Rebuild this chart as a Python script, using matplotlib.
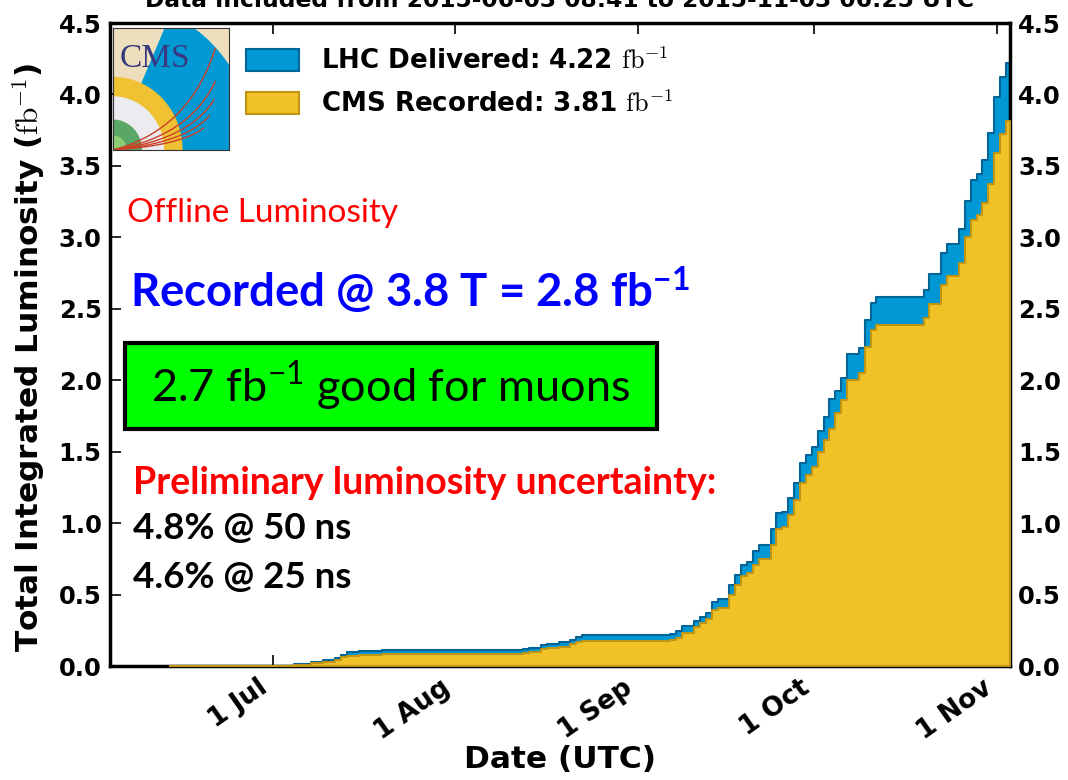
import matplotlib
matplotlib.use("Agg")
import matplotlib.pyplot as plt
import matplotlib.patches as mpatches
import numpy as np
import pandas as pd

# ---------------- data ----------------
step_dates = ["2015-06-13", "2015-07-04", "2015-07-07", "2015-07-09", "2015-07-11", "2015-07-12",
              "2015-07-13", "2015-07-15", "2015-07-19", "2015-08-12", "2015-08-13", "2015-08-15",
              "2015-08-16", "2015-08-18", "2015-08-20", "2015-08-21", "2015-08-22", "2015-09-06",
              "2015-09-07", "2015-09-08", "2015-09-10", "2015-09-11", "2015-09-12", "2015-09-13",
              "2015-09-14", "2015-09-16", "2015-09-17", "2015-09-18", "2015-09-19", "2015-09-20",
              "2015-09-21", "2015-09-23", "2015-09-24", "2015-09-25", "2015-09-26", "2015-09-27",
              "2015-09-28", "2015-09-29", "2015-09-30", "2015-10-01", "2015-10-02", "2015-10-03",
              "2015-10-04", "2015-10-05", "2015-10-06", "2015-10-08", "2015-10-09", "2015-10-10",
              "2015-10-11", "2015-10-19", "2015-10-20", "2015-10-22", "2015-10-23", "2015-10-25",
              "2015-10-26", "2015-10-27", "2015-10-28", "2015-10-29", "2015-10-30", "2015-10-31",
              "2015-11-01", "2015-11-02"]
delivered = [0.001, 0.014, 0.030, 0.042, 0.058, 0.080, 0.096, 0.105, 0.113, 0.119, 0.130, 0.145,
             0.156, 0.166, 0.182, 0.205, 0.215, 0.222, 0.245, 0.282, 0.317, 0.345, 0.373, 0.448,
             0.467, 0.565, 0.635, 0.705, 0.728, 0.805, 0.850, 0.960, 1.069, 1.080, 1.173, 1.278,
             1.418, 1.477, 1.535, 1.647, 1.745, 1.868, 1.927, 2.018, 2.181, 2.228, 2.421, 2.538,
             2.584, 2.631, 2.743, 2.888, 2.953, 3.058, 3.254, 3.401, 3.443, 3.541, 3.728, 3.980,
             4.124, 4.222]
recorded = [0.0005, 0.007, 0.019, 0.030, 0.042, 0.061, 0.072, 0.079, 0.083, 0.089, 0.100, 0.117,
            0.128, 0.135, 0.152, 0.170, 0.177, 0.182, 0.200, 0.233, 0.271, 0.299, 0.327, 0.392,
            0.404, 0.497, 0.567, 0.630, 0.649, 0.707, 0.749, 0.847, 0.957, 0.975, 1.060, 1.162,
            1.278, 1.337, 1.395, 1.500, 1.581, 1.658, 1.768, 1.861, 2.001, 2.048, 2.234, 2.351,
            2.386, 2.433, 2.533, 2.666, 2.729, 2.818, 3.000, 3.121, 3.156, 3.242, 3.373, 3.588,
            3.723, 3.816]
range_start = "2015-06-03 08:41"
range_end = "2015-11-03 06:25"
tick_dates = ["2015-07-01", "2015-08-01", "2015-09-01", "2015-10-01", "2015-11-01"]
tick_labels = ["1 Jul", "1 Aug", "1 Sep", "1 Oct", "1 Nov"]
y_ticks = [0.0, 0.5, 1.0, 1.5, 2.0, 2.5, 3.0, 3.5, 4.0, 4.5]
total_delivered = 4.22
total_recorded = 3.81

# ---------------- figure ----------------
plt.rcParams['font.family'] = ['DejaVu Sans']
plt.rcParams['mathtext.rm'] = 'Lato'
plt.rcParams['mathtext.bf'] = 'Lato:bold'
plt.rcParams['mathtext.it'] = 'Lato:italic'
plt.rcParams['mathtext.sf'] = 'Lato'

fig = plt.figure(figsize=(10.68, 7.8), dpi=100)
ax = fig.add_axes([0.103, 0.146, 0.8427, 0.8245])

x = pd.to_datetime(step_dates) + pd.Timedelta(hours=14)
x = list(x) + [pd.Timestamp(range_end)]
yd = np.array(delivered + [delivered[-1]])
yr = np.array(recorded + [recorded[-1]])

c_del = (0 / 255., 152 / 255., 212 / 255.)
e_del = (0 / 255., 100 / 255., 150 / 255.)
c_rec = (241 / 255., 194 / 255., 40 / 255.)
e_rec = (190 / 255., 150 / 255., 20 / 255.)

ax.fill_between(x, 0, yd, step='post', facecolor=c_del, edgecolor=e_del, linewidth=1.5, zorder=2)
ax.fill_between(x, 0, yr, step='post', facecolor=c_rec, edgecolor=e_rec, linewidth=1.5, zorder=3)

ax.set_xlim(pd.Timestamp(range_start), pd.Timestamp(range_end))
ax.set_ylim(0, 4.5)
ax.set_xticks(pd.to_datetime(tick_dates))
ax.set_xticklabels(tick_labels, rotation=35, ha='right', rotation_mode='default',
                   fontsize=19, fontweight='bold')
ax.set_yticks(y_ticks)
ax.set_yticklabels([f"{v:.1f}" for v in y_ticks], fontsize=17.5, fontweight='bold')
ax.tick_params(axis='both', which='major', direction='in', length=8, width=1.2,
               top=True, right=True, labelright=True, pad=6)
for s in ax.spines.values():
    s.set_linewidth(2.5)

ax.set_xlabel("Date (UTC)", fontsize=22.5, fontweight='bold')
ax.xaxis.set_label_coords(0.5, -0.122)
ax.set_ylabel(r"Total Integrated Luminosity ($\mathrm{fb}^{-1}$)", fontsize=22.5,
              fontweight='bold', math_fontfamily='cm')
ax.yaxis.set_label_coords(-0.069, 0.48)

fig.text(0.524, 1 - 7 / 780, "Data included from 2015-06-03 08:41 to 2015-11-03 06:25 UTC",
         ha='center', va='baseline', fontsize=16.8, fontweight='bold')

# legend
h_del = mpatches.Patch(facecolor=c_del, edgecolor=e_del, linewidth=1.5)
h_rec = mpatches.Patch(facecolor=c_rec, edgecolor=e_rec, linewidth=1.5)
leg = ax.legend([h_del, h_rec],
                [r"LHC Delivered: %.2f $\mathrm{fb}^{-1}$" % total_delivered,
                 r"CMS Recorded: %.2f $\mathrm{fb}^{-1}$" % total_recorded],
                loc='upper left', bbox_to_anchor=(0.1395, 0.977), frameon=False,
                prop={'size': 18.8, 'weight': 'bold', 'math_fontfamily': 'cm'},
                handlelength=2.03, handleheight=0.96, handletextpad=0.84,
                labelspacing=0.63, borderaxespad=0)

# annotations
tf = ['Lato', 'DejaVu Sans']
ax.text(0.019, 0.705, "Offline Luminosity", transform=ax.transAxes, color='red',
        fontsize=24, family=tf, va='center', ha='left')
ax.text(0.022, 0.585, r"Recorded @ 3.8 T = 2.8 fb$^{\mathbf{-1}}$", transform=ax.transAxes,
        color='blue', fontsize=32.8, fontweight='bold', family=tf, va='center', ha='left',
        math_fontfamily='custom')
ax.add_patch(mpatches.Rectangle((0.0167, 0.3686), 0.591, 0.1337, transform=ax.transAxes,
                                facecolor=(0.0, 1.0, 0.0), edgecolor='black', linewidth=3,
                                zorder=4))
ax.text(0.3122, 0.4355, r"2.7 fb$^{-1}$ good for muons", transform=ax.transAxes,
        color='black', fontsize=32.5, family=tf, va='center', ha='center',
        math_fontfamily='custom', zorder=5)
ax.text(0.0256, 0.2846, "Preliminary luminosity uncertainty:", transform=ax.transAxes,
        color='red', fontsize=27, fontweight='bold', family=tf, va='center', ha='left')
ax.text(0.0256, 0.2146, "4.8% @ 50 ns", transform=ax.transAxes, color='black',
        fontsize=26.5, fontweight='bold', family=tf, va='center', ha='left')
ax.text(0.0256, 0.1384, "4.6% @ 25 ns", transform=ax.transAxes, color='black',
        fontsize=26.5, fontweight='bold', family=tf, va='center', ha='left')

# CMS logo (drawn)
lax = fig.add_axes([0.1058, 0.8077, 0.1086, 0.1564])
lax.set_xlim(0, 1)
lax.set_ylim(0, 1)
lax.set_xticks([])
lax.set_yticks([])
lax.add_patch(mpatches.Rectangle((0, 0), 1, 1, facecolor=(0.93, 0.87, 0.74), edgecolor='none'))
lax.add_patch(mpatches.Wedge((0, 0), 1.22, 0, 66, facecolor=(0.0, 0.6, 0.83), edgecolor='none'))
lax.add_patch(mpatches.Wedge((0, 0), 0.60, 0, 90, facecolor=(0.94, 0.76, 0.2), edgecolor='none'))
lax.add_patch(mpatches.Wedge((0, 0), 0.44, 0, 90, facecolor=(0.92, 0.92, 0.94), edgecolor='none'))
lax.add_patch(mpatches.Wedge((0, 0), 0.25, 0, 90, facecolor=(0.35, 0.65, 0.4), edgecolor='none'))
lax.add_patch(mpatches.Wedge((0, 0), 0.12, 0, 90, facecolor=(0.55, 0.8, 0.45), edgecolor='none'))
for ex, ey in [(0.88, 0.83), (0.88, 0.56), (0.87, 0.41), (0.83, 0.28), (0.78, 0.18)]:
    t = np.linspace(0, 1, 40)
    cx, cy = ex * 0.75, ey * 0.2
    bx = 2 * (1 - t) * t * cx + t ** 2 * ex
    by = 2 * (1 - t) * t * cy + t ** 2 * ey
    lax.plot(bx, by, color=(0.8, 0.25, 0.15), lw=1.0)
lax.text(0.06, 0.75, "CMS", color=(0.22, 0.22, 0.5), fontsize=24, family='Liberation Serif',
         va='center', ha='left')
for s in lax.spines.values():
    s.set_linewidth(0.8)
    s.set_color('#333333')

fig.savefig("out.png", dpi=100)
